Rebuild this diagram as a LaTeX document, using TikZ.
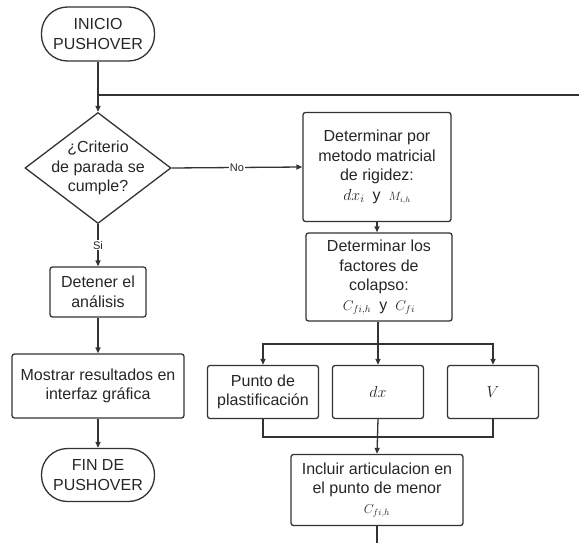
\documentclass[tikz,border=0pt]{standalone}
\usepackage{fix-cm}
\usepackage{fontspec}
\setmainfont{Liberation Sans}
\usetikzlibrary{arrows.meta,shapes.geometric}
\newcommand{\mfs}[1]{\fontsize{#1}{19.5}\selectfont}
\begin{document}
\begin{tikzpicture}[x=1pt,y=1pt,
  every node/.style={font=\fontsize{16}{19.5}\selectfont, text=black!85},
  ln/.style={draw=black!80, line width=1.3pt},
  arr/.style={ln, -{Triangle[length=6pt,width=5pt]}},
  stepbox/.style={draw=black!80, line width=1.3pt, rectangle, rounded corners=2.5pt, align=center, inner sep=0pt},
  term/.style={draw=black!80, line width=1.3pt, rectangle, rounded corners=26pt, align=center, inner sep=0pt, minimum width=113, minimum height=54},
  lbl/.style={fill=white, inner sep=1pt, font=\fontsize{11}{13}\selectfont}
]
\useasboundingbox (0,0) rectangle (579,-543);
% nodes
\node[term] (ini) at (98,-34) {INICIO\\PUSHOVER};
\node[diamond, draw=black!80, line width=1.3pt, minimum width=146, minimum height=111, inner sep=0pt] (dec) at (98,-168) {};
\node[align=center] (dect) at (dec) {¿Criterio\\de parada se\\cumple?};
\node[stepbox, minimum width=96, minimum height=50] (det) at (98,-292) {Detener el\\análisis};
\node[stepbox, minimum width=172, minimum height=64] (mos) at (98,-386) {Mostrar resultados en\\interfaz gráfica};
\node[term, minimum height=53] (fin) at (98,-475) {FIN DE\\PUSHOVER};

\node[stepbox, minimum width=148, minimum height=109] (b1) at (377,-167)
  {Determinar por\\metodo matricial\\de rigidez:\\$dx_i$\enspace y\enspace {\mfs{12}$M_{i,h}$}};
\node[stepbox, minimum width=146, minimum height=88] (b2) at (379,-277)
  {Determinar los\\factores de\\colapso:\\{\mfs{14}$C_{fi,h}$}\enspace y\enspace {\mfs{14}$C_{fi}$}};
\node[stepbox, minimum width=111, minimum height=53] (pp) at (263,-392) {Punto de\\plastificación};
\node[stepbox, minimum width=91, minimum height=53] (dx) at (378,-392) {$dx$};
\node[stepbox, minimum width=91, minimum height=53] (vv) at (493,-392) {$V$};
\node[stepbox, minimum width=172, minimum height=71] (inc) at (377,-490)
  {Incluir articulacion en\\el punto de menor\\{\mfs{13}$C_{fi,h}$}};

% coordinates
\coordinate (loopR) at (579,-95);
\coordinate (loopJ) at (98,-95);
\coordinate (fork) at (378,-344);
\coordinate (join) at (378,-437);
\coordinate (bot) at (377,-543);

% connectors
\draw[arr] (ini.south) -- (dec.north);
\draw[ln] (loopR) -- (loopJ);
\draw[arr] (dec.east) -- node[lbl] {No} (b1.west);
\draw[arr] (dec.south) -- node[lbl] {Si} (det.north);
\draw[arr] (det.south) -- (mos.north);
\draw[arr] (mos.south) -- (fin.north);
\draw[arr] (b1.south) -- (b1.south |- b2.north);
\draw[ln] (b2.south -| fork) -- (fork);
\draw[arr] (fork) -| (pp.north);
\draw[arr] (fork) -| (vv.north);
\draw[arr] (fork) -- (dx.north);
\draw[ln] (pp.south) |- (join);
\draw[ln] (vv.south) |- (join);
\draw[arr] (dx.south) -- (inc.north);
\draw[ln] (inc.south) -- (bot);
\end{tikzpicture}
\end{document}
